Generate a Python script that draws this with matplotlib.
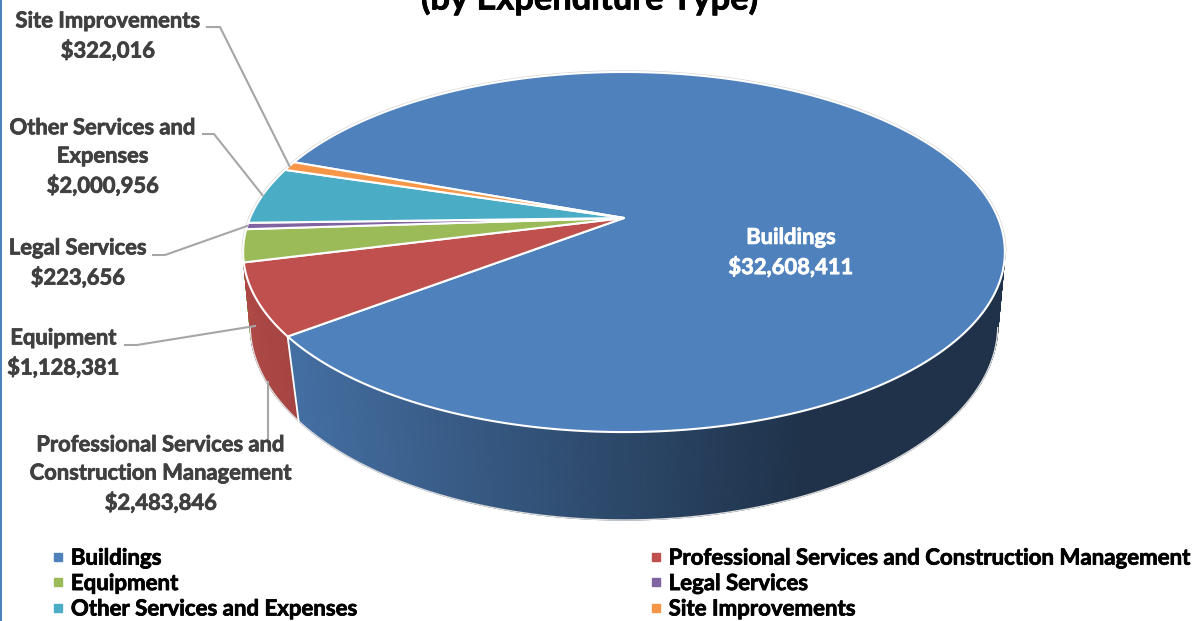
import numpy as np
import matplotlib
matplotlib.use("Agg")
import matplotlib.pyplot as plt
import matplotlib.patheffects as pe
from matplotlib.patches import Polygon, Rectangle
from matplotlib.lines import Line2D

categories = ["Buildings", "Professional Services and Construction Management",
              "Equipment", "Legal Services", "Other Services and Expenses", "Site Improvements"]
values = [32608411, 2483846, 1128381, 223656, 2000956, 322016]
colors = ["#4f81bd", "#c0504d", "#9bbb59", "#8064a2", "#4bacc6", "#f79646"]
label_text = ["Buildings\n$32,608,411", "Professional Services and\nConstruction Management\n$2,483,846",
              "Equipment\n$1,128,381", "Legal Services\n$223,656",
              "Other Services and\nExpenses\n$2,000,956", "Site Improvements\n$322,016"]
title_text = "(by Expenditure Type)"
first_angle = 290.0

plt.rcParams["font.family"] = ["Lato", "DejaVu Sans"]
fig = plt.figure(figsize=(12.04, 6.21), dpi=100)
ax = fig.add_axes([0, 0, 1, 1])
ax.set_xlim(0, 1204)
ax.set_ylim(621, 0)
ax.axis("off")

CX = 624.0

def top(theta):
    u, v = np.sin(theta), -np.cos(theta)
    w = 1 - 0.189 * v
    return np.column_stack([CX + 374 * u / w, 218 + 173.6 * v / w])

def bottom(theta):
    u, v = np.sin(theta), -np.cos(theta)
    w = 1 - 0.16 * v
    return np.column_stack([CX + 369 * u / w, 293.8 + 190 * v / w])

def shade(x):
    return np.clip(0.90 - 0.51 * (x - 250) / 550, 0.39, 0.90)

total = sum(values)
edges = np.radians(first_angle + np.concatenate([[0], np.cumsum(values)]) / total * 360)

# side wall, back to front
segs = []
for i, c in enumerate(colors):
    n = max(3, int((edges[i + 1] - edges[i]) / np.radians(0.4)))
    t = np.linspace(edges[i], edges[i + 1], n + 1)
    T, B = top(t), bottom(t)
    rgb = np.array(matplotlib.colors.to_rgb(c))
    for j in range(n):
        mid = (T[j, 0] + T[j + 1, 0] + B[j, 0] + B[j + 1, 0]) / 4
        segs.append((B[j, 1] + B[j + 1, 1],
                     np.vstack([T[j], T[j + 1], B[j + 1], B[j]]),
                     rgb * shade(mid)))
for _, q, col in sorted(segs, key=lambda s: s[0]):
    ax.add_patch(Polygon(q, closed=True, fc=col, ec=col, lw=0.8, zorder=2))

tt = np.radians(np.linspace(0, 360, 1441))
vv = -np.cos(tt)

# faint outer rim of the wall
bb = bottom(tt)
low = np.argsort(np.where(vv > 0.17, tt, np.nan))
low = low[vv[low] > 0.17]
ax.plot(bb[low, 0], bb[low, 1], color="#dcdcdc", lw=1.0, zorder=2.5)

# seam between the two visible wall colours
seam = np.array([edges[1]])
ax.plot([top(seam)[0, 0], bottom(seam)[0, 0]], [top(seam)[0, 1], bottom(seam)[0, 1]],
        color="white", lw=1.3, zorder=3)

# grey fringe around the back half of the top face
rim = top(tt)
back = np.roll(np.arange(len(tt)), len(tt) // 4)
back = back[vv[back] <= 0.19]
ax.plot(rim[back, 0], rim[back, 1], color="#d4d4d4", lw=2.4, zorder=3.5)

# top face
apex = np.array([[CX, 218.0]])
for i, c in enumerate(colors):
    n = max(3, int((edges[i + 1] - edges[i]) / np.radians(0.5)))
    t = np.linspace(edges[i], edges[i + 1], n + 1)
    ax.add_patch(Polygon(np.vstack([apex, top(t)]), closed=True, fc=c, ec="white",
                         lw=1.5, joinstyle="round", zorder=4))

# leaders
gray = "#a6a6a6"
mids = (edges[:-1] + edges[1:]) / 2
for idx, tail in [(5, (207, 27, 220, 27)), (4, (203, 134, 214, 134)), (3, (153, 255, 165, 255))]:
    head = top(np.array([mids[idx]]))[0]
    ax.plot([tail[0], tail[2], head[0]], [tail[1], tail[3], head[1]], color=gray, lw=1.5, zorder=5)
ax.plot([125, 137, 255], [345, 345, 326], color=gray, lw=1.5, zorder=5)
ax.plot([268, 268], [382, 440], color=gray, lw=1.5, zorder=5)

# labels
def heavy(col):
    return [pe.withStroke(linewidth=0.55, foreground=col)]

lab = dict(fontweight="bold", fontsize=15.8, ha="center", va="center",
           linespacing=1.43, color="#404040", zorder=6, path_effects=heavy("#404040"))
ax.text(791, 252.5, label_text[0], **{**lab, "color": "white", "path_effects": heavy("white")})
ax.text(161, 474, label_text[1], **lab)
ax.text(63.5, 353, label_text[2], **lab)
ax.text(78, 263, label_text[3], **lab)
ax.text(103, 157, label_text[4], **lab)
ax.text(108, 36, label_text[5], **lab)

ax.text(590, 9.5, title_text, fontweight="bold", fontsize=24.8, ha="center", va="baseline",
        color="black", path_effects=heavy("black"))

# left border
ax.add_patch(Rectangle((0, 0), 2, 621, fc="#4f81bd", ec="none", zorder=7))

# legend: rows read across, so the column-first order is rearranged
order = [0, 2, 4, 1, 3, 5]
handles = [Line2D([], [], ls="none", marker="s", ms=5.8, mfc=colors[i], mec=colors[i]) for i in order]
leg = ax.legend(handles, [categories[i] for i in order], ncol=2, loc="lower left",
                bbox_to_anchor=(51.3 / 1204, 1.5 / 621), bbox_transform=ax.transAxes,
                frameon=False, prop=dict(weight="bold", size=16), labelspacing=0.2,
                handlelength=0.6, handletextpad=0.28, columnspacing=13.06, borderpad=0, borderaxespad=0)
for t in leg.get_texts():
    t.set_color("black")
    t.set_path_effects(heavy("black"))

fig.savefig("out.png", dpi=100)
